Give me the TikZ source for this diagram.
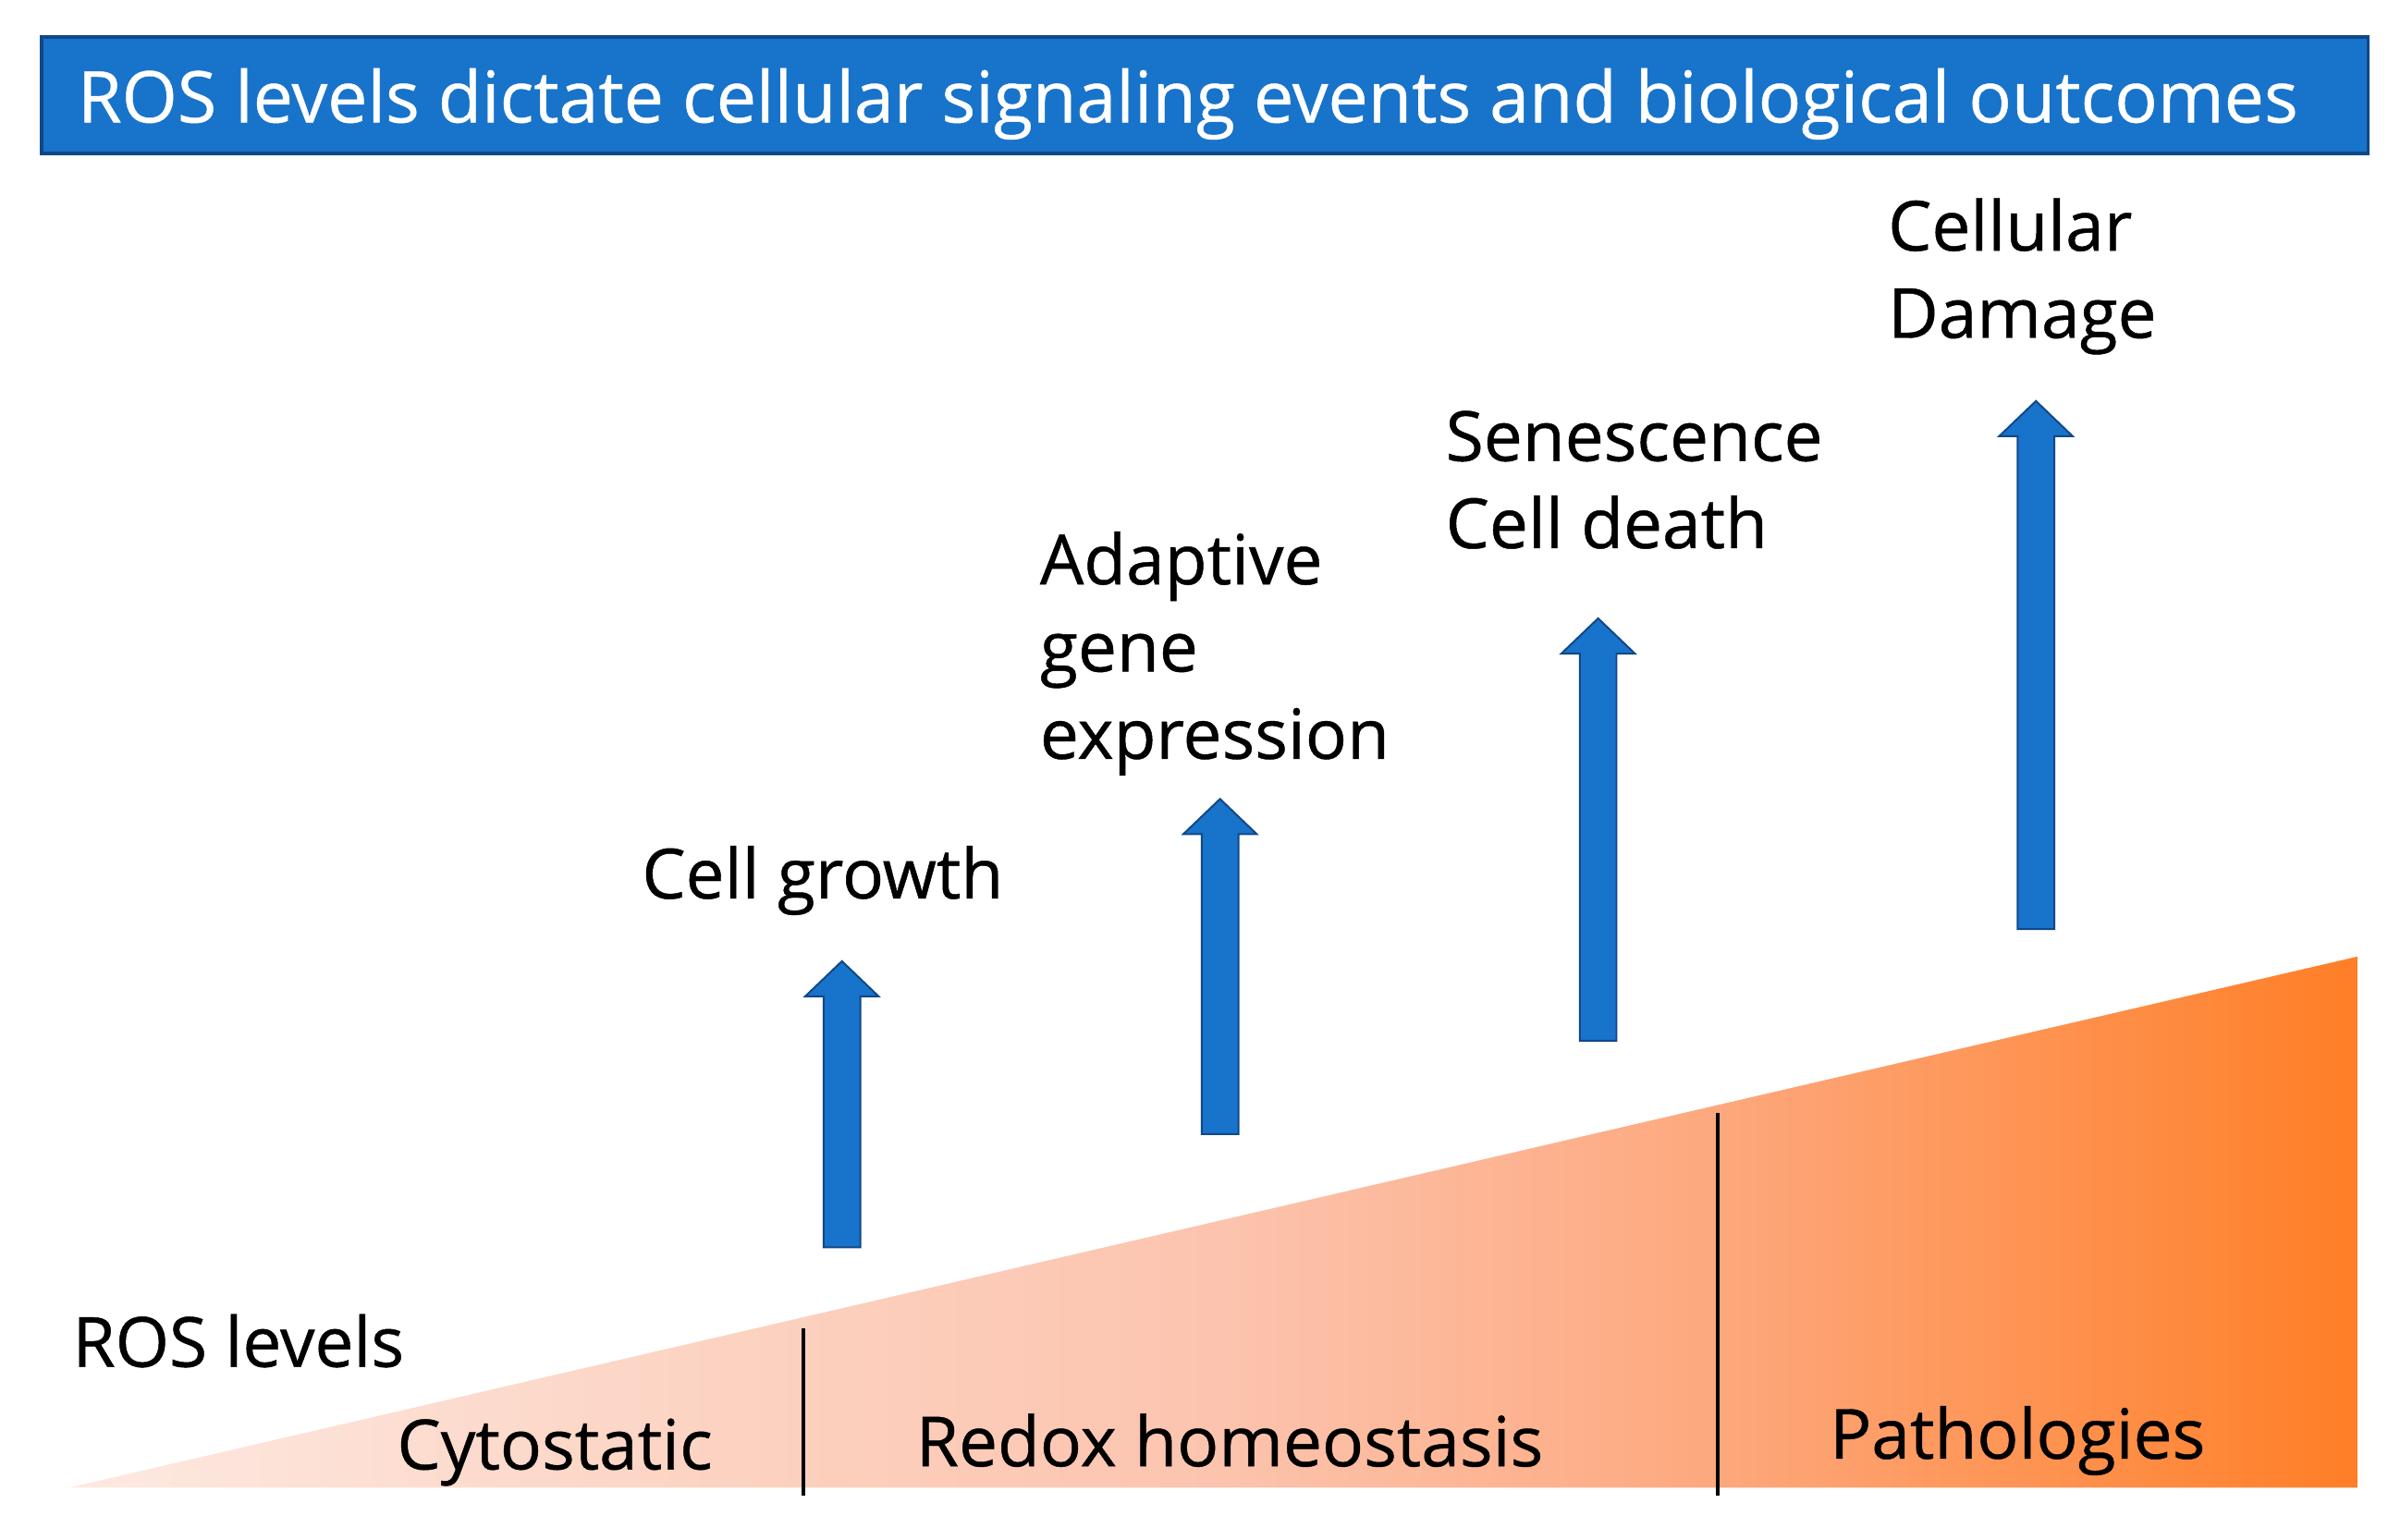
\documentclass[tikz,border=0pt]{standalone}
\usepackage{fontspec}
\setmainfont{Open Sans}
\newfontfamily\rosfont{Open Sans}[FakeBold=0.6]

\definecolor{rosblue}{RGB}{24,115,202}
\definecolor{rosedge}{RGB}{16,72,135}
\definecolor{peachA}{RGB}{253,233,225}
\definecolor{peachB}{RGB}{252,208,190}
\definecolor{peachC}{RGB}{252,196,175}
\definecolor{peachD}{RGB}{253,168,125}
\definecolor{peachE}{RGB}{255,126,38}

\pgfdeclarehorizontalshading{rosramp}{100bp}{color(0bp)=(peachA); color(25bp)=(peachA);
  color(41bp)=(peachB); color(50bp)=(peachC); color(61bp)=(peachD);
  color(75bp)=(peachE); color(100bp)=(peachE)}

\tikzset{
  titlebar/.style={draw=rosedge,line width=1.2pt,fill=rosblue,minimum width=760pt,minimum height=38pt,inner sep=0pt},
  titletext/.style={text=white,inner sep=0pt,font=\rosfont\fontsize{23.3}{28}\selectfont},
  outcome/.style={inner sep=0pt,align=left,font=\rosfont\fontsize{22.6}{28.5}\selectfont},
  blockarrow/.style={draw=rosedge,line width=0.6pt,fill=rosblue,line join=miter},
  divider/.style={line width=1.2pt,black}
}

\begin{document}
\begin{tikzpicture}[x=0.5pt,y=-0.5pt]
  \useasboundingbox (0,0) rectangle (1560,1006);
  % title
  \node[titlebar] (bar) at (787,62) {};
  \node[titletext,anchor=base] (title) at (776,80) {ROS levels dictate cellular signaling events and biological outcomes};
  % ROS wedge
  \shade[shading=rosramp] (45,972) -- (1540,625) -- (1540,972) -- cycle;
  \coordinate (d1top) at (525,868);
  \coordinate (d1bot) at (525,977);
  \coordinate (d2top) at (1122,727);
  \coordinate (d2bot) at (1122,977);
  \draw[divider] (d1top) -- (d1bot);
  \draw[divider] (d2top) -- (d2bot);
  % arrows
  \draw[blockarrow] (550,628) -- (574,651) -- (562,651) -- (562,815) -- (538,815) -- (538,651) -- (526,651) -- cycle;
  \draw[blockarrow] (797,522) -- (821,545) -- (809,545) -- (809,741) -- (785,741) -- (785,545) -- (773,545) -- cycle;
  \draw[blockarrow] (1044,404) -- (1068,427) -- (1056,427) -- (1056,680) -- (1032,680) -- (1032,427) -- (1020,427) -- cycle;
  \draw[blockarrow] (1330,262) -- (1354,285) -- (1342,285) -- (1342,607) -- (1318,607) -- (1318,285) -- (1306,285) -- cycle;
  % outcomes
  \node[outcome,anchor=base west] (growth) at (419,587) {Cell growth};
  \node[outcome,anchor=north west] (adaptive) at (679,347) {Adaptive\\gene\\expression};
  \node[outcome,anchor=north west] (senescence) at (944,268) {Senescence\\Cell death};
  \node[outcome,anchor=north west] (damage) at (1233,129) {Cellular\\Damage};
  % levels
  \node[outcome,anchor=base west] (levels) at (47,893) {ROS levels};
  \node[outcome,anchor=base west] (cytostatic) at (259,960) {Cytostatic};
  \node[outcome,anchor=base west] (redox) at (598,958) {Redox homeostasis};
  \node[outcome,anchor=base west] (patho) at (1195,953) {Pathologies};
\end{tikzpicture}
\end{document}
